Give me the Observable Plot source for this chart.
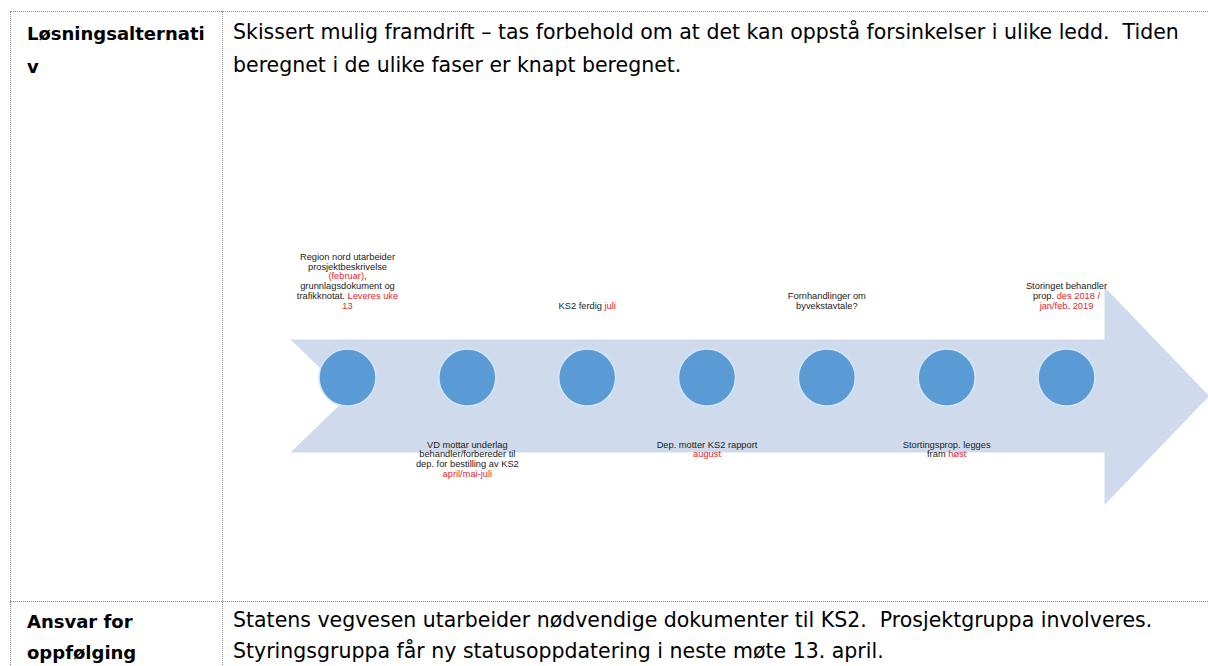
<!DOCTYPE html>
<html><head><meta charset="utf-8">
<script src="https://cdn.jsdelivr.net/npm/d3@7"></script>
<script src="https://cdn.jsdelivr.net/npm/@observablehq/plot@0.6"></script>
<style>
body{margin:0;background:#fff}
#page{position:relative;width:1208px;height:666px;overflow:hidden;background:#fff;color:#000}
.b{position:absolute;border-color:#8a8a8a;border-style:dotted;border-width:0}
.t{position:absolute;white-space:pre;font-family:"DejaVu Sans",sans-serif;font-size:20.5px;line-height:33px;color:#000}
.h{font-weight:bold;font-size:18px}
#chart{position:absolute;left:223px;top:200px;width:985px;height:340px}
</style></head>
<body><div id="page">
<div class="b" style="left:10px;top:11px;width:1300px;border-top-width:1px"></div>
<div class="b" style="left:10px;top:11px;height:700px;border-left-width:1px"></div>
<div class="b" style="left:222px;top:11px;height:700px;border-left-width:1px"></div>
<div class="b" style="left:10px;top:601px;width:1300px;border-top-width:1px"></div>
<div id="chart"></div>
</div>
<script>
// ---- table content ----
const rowHeaders = [["Løsningsalternati", "v"], ["Ansvar for", "oppfølging"]];
const rowTexts = [
  ["Skissert mulig framdrift – tas forbehold om at det kan oppstå forsinkelser i ulike ledd.  Tiden",
   "beregnet i de ulike faser er knapt beregnet."],
  ["Statens vegvesen utarbeider nødvendige dokumenter til KS2.  Prosjektgruppa involveres.",
   "Styringsgruppa får ny statusoppdatering i neste møte 13. april."]
];

// ---- timeline content (text between * * is highlighted red) ----
const milestones = [0, 1, 2, 3, 4, 5, 6];
const labelSide = ["top", "bottom", "top", "bottom", "top", "bottom", "top"];
const labelText = [
  ["Region nord utarbeider", "prosjektbeskrivelse", "*(februar)*,", "grunnlagsdokument og", "trafikknotat. *Leveres uke*", "*13*"],
  ["VD mottar underlag", "behandler/forbereder til", "dep. for bestilling av KS2", "*april/mai-juli*"],
  ["KS2 ferdig *juli*"],
  ["Dep. motter KS2 rapport", "*august*"],
  ["Fornhandlinger om", "byvekstavtale?"],
  ["Stortingsprop. legges", "fram *høst*"],
  ["Storinget behandler", "prop. *des 2018 /*", "*jan/feb. 2019*"]
];

// ---- layout ----
const page = document.getElementById("page");
const rowTops = [16, 605];
const rowLineHeights = [33, 31];
rowHeaders.forEach((lines, r) => {
  const d = document.createElement("div");
  d.className = "t h"; d.style.left = "27px"; d.style.top = (rowTops[r] + 0.9) + "px";
  d.style.lineHeight = rowLineHeights[r] + "px";
  d.textContent = lines.join("\n"); page.appendChild(d);
});
rowTexts.forEach((lines, r) => {
  const d = document.createElement("div");
  d.className = "t"; d.style.left = "233px"; d.style.top = rowTops[r] + "px";
  d.style.lineHeight = rowLineHeights[r] + "px";
  d.textContent = lines.join("\n"); page.appendChild(d);
});

const RED = "#e3262f";
const first = milestones[0], last = milestones[milestones.length - 1];
const arrow = [
  {x: first - 0.476, y: -1}, {x: last + 0.317, y: -1}, {x: last + 0.317, y: -1.93},
  {x: last + 1.19, y: 0}, {x: last + 0.317, y: 1.93}, {x: last + 0.317, y: 1},
  {x: first - 0.476, y: 1}, {x: first + 0.01, y: 0}, {x: first - 0.476, y: -1}
];
const circleRow = -0.327, topBase = -1.6, bottomBase = 0.86, step = 0.172;
const labelRows = [];
labelText.forEach((lines, m) => {
  const n = lines.length;
  lines.forEach((raw, j) => {
    const y = labelSide[m] === "top" ? topBase - (n - 1 - j) * step : bottomBase + j * step;
    labelRows.push({m, y, raw, plain: raw.replace(/\*/g, "")});
  });
});

const chart = Plot.plot({
  width: 985, height: 340, margin: 0,
  x: {type: "linear", domain: [first, last], range: [124, 843], axis: null},
  y: {type: "linear", domain: [-1, 1], range: [139, 252], axis: null},
  style: {background: "transparent", overflow: "visible"},
  marks: [
    Plot.line(arrow, {x: "x", y: "y", fill: "#cfdbec", stroke: "none", curve: "linear"}),
    Plot.dot(milestones, {x: d => d, y: () => circleRow, r: 28.5, fill: "#5b9bd5", stroke: "#d3e6f6", strokeWidth: 1.5}),
    Plot.text(labelRows, {x: "m", y: "y", text: "plain", fontSize: 9.3,
      fontFamily: "'Liberation Sans', Arial, sans-serif", fill: "#1b1b1b", textAnchor: "middle"})
  ]
});
document.getElementById("chart").appendChild(chart);

// colour the highlighted words
const svgns = "http://www.w3.org/2000/svg";
chart.querySelectorAll('g[aria-label="text"] text').forEach((el, i) => {
  const row = labelRows[i];
  if (!row) return;
  while (el.firstChild) el.removeChild(el.firstChild);
  row.raw.split("*").forEach((seg, k) => {
    if (!seg) return;
    const ts = document.createElementNS(svgns, "tspan");
    ts.textContent = seg;
    if (k % 2 === 1) ts.setAttribute("fill", RED);
    el.appendChild(ts);
  });
});
</script>
</body></html>
